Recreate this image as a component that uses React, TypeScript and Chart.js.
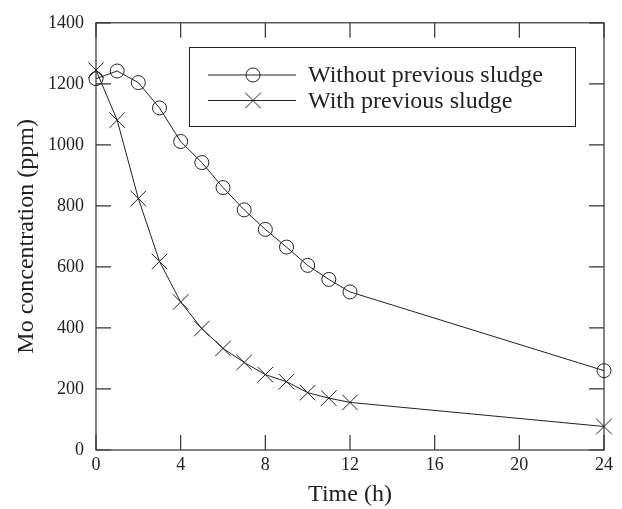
import React, { useEffect, useRef } from 'react';
import { Chart, registerables } from 'chart.js';

Chart.register(...registerables);

// ---- data ----
const hours = [0, 1, 2, 3, 4, 5, 6, 7, 8, 9, 10, 11, 12, 24];
const withoutSludge = [1217, 1242, 1204, 1121, 1011, 942, 860, 787, 723, 665, 605, 559, 518, 260];
const withSludge = [1245, 1081, 824, 618, 485, 398, 333, 287, 247, 224, 188, 170, 156, 77];
const seriesLabels = ['Without previous sludge', 'With previous sludge'];
const xAxisTitle = 'Time (h)';
const yAxisTitle = 'Mo concentration (ppm)';
const xRange = [0, 24];
const yRange = [0, 1400];
const xStep = 4;
const yStep = 200;

const FONT = "'Liberation Serif', 'Times New Roman', serif";
const INK = '#222';

const framePlugin = {
  id: 'frameTicks',
  beforeDatasetsDraw(chart: any) {
    const { ctx, chartArea: a, scales } = chart;
    const L = 15;
    ctx.save();
    ctx.strokeStyle = '#333';
    ctx.lineWidth = 1.2;
    ctx.strokeRect(a.left, a.top, a.right - a.left, a.bottom - a.top);
    ctx.beginPath();
    scales.x.ticks.forEach((t: any) => {
      const px = scales.x.getPixelForValue(t.value);
      ctx.moveTo(px, a.bottom);
      ctx.lineTo(px, a.bottom - L);
      ctx.moveTo(px, a.top);
      ctx.lineTo(px, a.top + L);
    });
    scales.y.ticks.forEach((t: any) => {
      const py = scales.y.getPixelForValue(t.value);
      ctx.moveTo(a.left, py);
      ctx.lineTo(a.left + L, py);
      ctx.moveTo(a.right, py);
      ctx.lineTo(a.right - L, py);
    });
    ctx.stroke();
    ctx.restore();
  },
};

const legendPlugin = {
  id: 'boxLegend',
  afterDraw(chart: any, _args: any, o: any) {
    const { ctx } = chart;
    ctx.save();
    ctx.strokeStyle = INK;
    ctx.lineWidth = 1;
    ctx.strokeRect(o.left, o.top, o.width, o.height);
    ctx.font = `${o.fontSize}px ${FONT}`;
    ctx.textBaseline = 'middle';
    ctx.textAlign = 'left';
    ctx.fillStyle = INK;
    chart.data.datasets.forEach((ds: any, i: number) => {
      const y = o.top + o.firstRow + i * o.rowGap;
      ctx.beginPath();
      ctx.moveTo(o.lineStart, y);
      ctx.lineTo(o.lineEnd, y);
      ctx.stroke();
      const mx = o.marker;
      ctx.beginPath();
      if (ds.pointStyle === 'circle') {
        ctx.arc(mx, y, ds.pointRadius, 0, Math.PI * 2);
      } else {
        const d = ds.pointRadius * Math.SQRT1_2;
        ctx.moveTo(mx - d, y - d);
        ctx.lineTo(mx + d, y + d);
        ctx.moveTo(mx + d, y - d);
        ctx.lineTo(mx - d, y + d);
      }
      ctx.stroke();
      ctx.fillText(ds.label, o.textStart, y + 1);
    });
    ctx.restore();
  },
};

export default function App() {
  const ref = useRef<HTMLCanvasElement | null>(null);

  useEffect(() => {
    if (!ref.current) return;
    const chart = new Chart(ref.current, {
      type: 'line',
      data: {
        datasets: [
          {
            label: seriesLabels[0],
            data: hours.map((h, i) => ({ x: h, y: withoutSludge[i] })),
            borderColor: INK,
            borderWidth: 1,
            pointStyle: 'circle',
            pointRadius: 7,
            pointBorderWidth: 1,
            pointBorderColor: INK,
            pointBackgroundColor: 'rgba(0,0,0,0)',
            tension: 0,
            clip: false,
          },
          {
            label: seriesLabels[1],
            data: hours.map((h, i) => ({ x: h, y: withSludge[i] })),
            borderColor: INK,
            borderWidth: 1,
            pointStyle: 'crossRot',
            pointRadius: 11,
            pointBorderWidth: 1,
            pointBorderColor: INK,
            pointBackgroundColor: 'rgba(0,0,0,0)',
            tension: 0,
            clip: false,
          },
        ],
      } as any,
      options: {
        animation: false,
        responsive: false,
        events: [],
        layout: { padding: { left: 0, top: 16, right: 18, bottom: 0 } },
        plugins: {
          legend: { display: false },
          tooltip: { enabled: false },
          boxLegend: {
            left: 189.5,
            top: 47.5,
            width: 386,
            height: 79,
            firstRow: 27.5,
            rowGap: 25.5,
            lineStart: 208,
            lineEnd: 296,
            marker: 253,
            textStart: 308,
            fontSize: 24,
          },
        } as any,
        scales: {
          x: {
            type: 'linear',
            min: xRange[0],
            max: xRange[1],
            grid: { display: false, drawTicks: false },
            border: { display: false },
            ticks: {
              stepSize: xStep,
              padding: 4,
              color: INK,
              font: { family: FONT, size: 18 },
              maxRotation: 0,
              callback: (v: any) => String(v),
            },
            title: {
              display: true,
              text: xAxisTitle,
              color: INK,
              font: { family: FONT, size: 24 },
              padding: { top: 0, bottom: 0 },
            },
            afterFit(scale: any) {
              scale.height = 59;
            },
          },
          y: {
            type: 'linear',
            min: yRange[0],
            max: yRange[1],
            grid: { display: false, drawTicks: false },
            border: { display: false },
            ticks: {
              stepSize: yStep,
              padding: 12,
              color: INK,
              font: { family: FONT, size: 18 },
              callback: (v: any) => String(v),
            },
            title: {
              display: true,
              text: yAxisTitle,
              color: INK,
              font: { family: FONT, size: 24 },
              padding: { top: 12, bottom: 0 },
            },
            afterFit(scale: any) {
              scale.width = 96;
            },
          },
        },
      } as any,
      plugins: [framePlugin, legendPlugin],
    });
    return () => chart.destroy();
  }, []);

  return (
    <div style={{ position: 'fixed', left: 0, top: 0, width: 622, height: 509, background: '#fff' }}>
      <canvas ref={ref} width={622} height={509} style={{ display: 'block' }} />
    </div>
  );
}
